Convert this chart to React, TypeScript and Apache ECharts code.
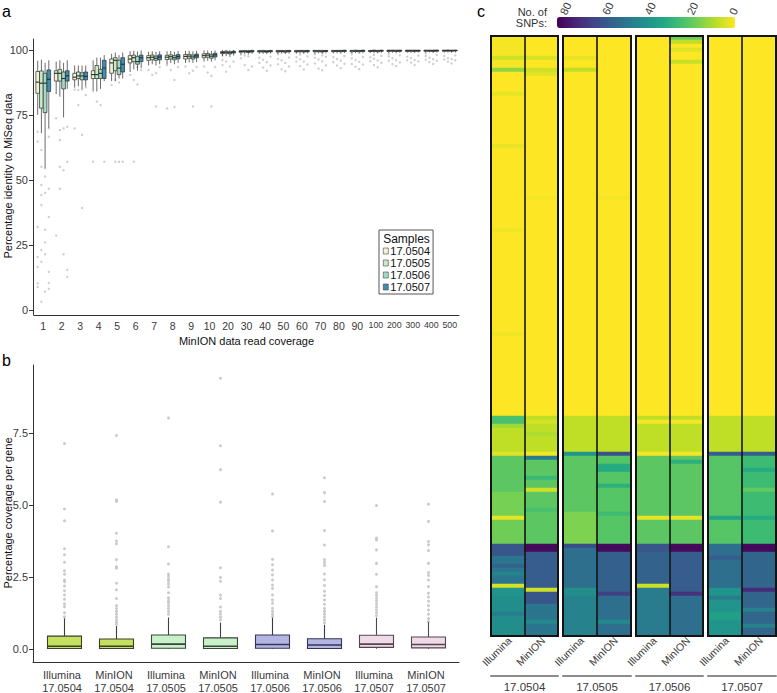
import React, { useEffect, useRef } from 'react';
import * as echarts from 'echarts';

const FONT = '"Liberation Sans", Arial, Helvetica, sans-serif';

// ---------- Panel a ----------
const coverageLevels = ['1','2','3','4','5','6','7','8','9','10','20','30','40','50','60','70','80','90','100','200','300','400','500'];
const sampleIds = ['17.0504', '17.0505', '17.0506', '17.0507'];
const sampleFillA = ['#f3f2d6', '#c9eac4', '#a2dac6', '#3d8fb2'];
const identityTicks = [0, 25, 50, 75, 100];

// [min, q1, median, q3, max] per coverage level
const boxA0504 = [
  [75, 83.3, 87.6, 91.7, 95.8], [83, 88, 91, 92, 95.5], [85.5, 88.5, 89.5, 91, 94], [84, 89, 90.5, 92, 96],
  [88, 91, 95, 96.5, 98.5], [91.5, 95, 96.5, 97.8, 99.5], [94, 96, 97, 97.8, 99.3], [94.5, 96.3, 97.2, 97.9, 99.5],
  [95, 96.5, 97.5, 98.2, 99.6], [95.5, 97, 97.8, 98.5, 99.8], [97.5, 98.6, 99, 99.4, 100], [98.3, 99.1, 99.4, 99.7, 100],
  [98.5, 99.2, 99.5, 99.7, 100], [98.5, 99.2, 99.5, 99.8, 100], [98.6, 99.2, 99.5, 99.8, 100], [98.6, 99.3, 99.6, 99.8, 100],
  [98.7, 99.3, 99.6, 99.8, 100], [98.7, 99.3, 99.6, 99.8, 100], [98.8, 99.4, 99.6, 99.8, 100], [98.8, 99.4, 99.7, 99.9, 100],
  [98.9, 99.4, 99.7, 99.9, 100], [98.9, 99.5, 99.7, 99.9, 100], [99, 99.5, 99.7, 99.9, 100],
];
const boxA0505 = [
  [68, 77.6, 87.2, 91.9, 96.2], [82, 88, 91, 92.5, 96], [86, 89, 90, 91.5, 94], [84, 89, 90.5, 94, 97],
  [88, 92, 96, 97, 99], [92.5, 95.5, 97, 98, 99.7], [94.5, 96.2, 97.2, 98, 99.5], [95, 96.5, 97.4, 98.1, 99.6],
  [95.2, 96.8, 97.6, 98.3, 99.7], [95.8, 97.2, 98, 98.6, 99.8], [97.6, 98.7, 99.1, 99.5, 100], [98.4, 99.2, 99.5, 99.7, 100],
  [98.5, 99.2, 99.5, 99.8, 100], [98.6, 99.3, 99.5, 99.8, 100], [98.6, 99.3, 99.6, 99.8, 100], [98.7, 99.3, 99.6, 99.8, 100],
  [98.7, 99.4, 99.6, 99.8, 100], [98.8, 99.4, 99.6, 99.9, 100], [98.8, 99.4, 99.7, 99.9, 100], [98.9, 99.5, 99.7, 99.9, 100],
  [98.9, 99.5, 99.7, 99.9, 100], [99, 99.5, 99.7, 99.9, 100], [99, 99.5, 99.8, 99.9, 100],
];
const boxA0506 = [
  [54.6, 75.9, 87.2, 91, 95], [74, 85, 89, 91.5, 95], [85, 88.5, 90, 91.2, 94], [85, 89, 91, 92.5, 97],
  [89, 90.5, 93, 96, 98], [92, 94.5, 95.5, 97.5, 99.4], [94, 96, 96.8, 97.6, 99.2], [94.5, 96.2, 97, 97.8, 99.3],
  [95, 96.5, 97.3, 98, 99.5], [95.5, 96.8, 97.6, 98.3, 99.6], [97.3, 98.5, 98.9, 99.3, 100], [98.2, 99, 99.4, 99.7, 100],
  [98.4, 99.1, 99.4, 99.7, 100], [98.4, 99.1, 99.5, 99.7, 100], [98.5, 99.2, 99.5, 99.8, 100], [98.5, 99.2, 99.5, 99.8, 100],
  [98.6, 99.3, 99.6, 99.8, 100], [98.6, 99.3, 99.6, 99.8, 100], [98.7, 99.3, 99.6, 99.8, 100], [98.7, 99.4, 99.6, 99.9, 100],
  [98.8, 99.4, 99.7, 99.9, 100], [98.8, 99.4, 99.7, 99.9, 100], [98.9, 99.5, 99.7, 99.9, 100],
];
const boxA0507 = [
  [70, 84, 88.7, 92.3, 96], [85, 88, 90, 92, 96], [86, 88.5, 89.8, 91.5, 94], [88, 89, 93, 96, 98],
  [89, 91.5, 94.5, 97, 99], [93, 95.5, 97, 98, 99.8], [94.5, 96.2, 97.3, 98.1, 99.5], [95, 96.6, 97.5, 98.2, 99.6],
  [95.3, 97, 97.7, 98.4, 99.7], [96, 97.3, 98.1, 98.7, 99.8], [97.8, 98.8, 99.2, 99.5, 100], [98.5, 99.2, 99.5, 99.8, 100],
  [98.6, 99.3, 99.5, 99.8, 100], [98.6, 99.3, 99.6, 99.8, 100], [98.7, 99.3, 99.6, 99.8, 100], [98.7, 99.4, 99.6, 99.8, 100],
  [98.8, 99.4, 99.6, 99.9, 100], [98.8, 99.4, 99.7, 99.9, 100], [98.9, 99.5, 99.7, 99.9, 100], [98.9, 99.5, 99.7, 99.9, 100],
  [99, 99.5, 99.7, 99.9, 100], [99, 99.5, 99.8, 99.9, 100], [99, 99.6, 99.8, 99.9, 100],
];

// outliers: [coverage level index, % identity]
const outA0504 = [
  [0, 68.5], [0, 64.7], [0, 31.9], [0, 20.3], [0, 16.5], [0, 10.1], [0, 8.8], [1, 73.7], [1, 28.6], [2, 84.8], [2, 69.8],
  [3, 57], [4, 86.5], [5, 90.4], [6, 92.3], [7, 94.2], [7, 77.5], [8, 93.6], [9, 93.6], [10, 96.1], [10, 94.2], [10, 98.1],
  [11, 96.8], [11, 98.2], [12, 97], [12, 95], [13, 96.5], [13, 94.5], [13, 98.3], [14, 97.2], [14, 95.5], [15, 97], [15, 94.8],
  [15, 98.4], [16, 97.3], [16, 95.3], [17, 96.8], [17, 94.6], [17, 98.3], [18, 97.2], [18, 95.6], [19, 97.5], [19, 95.8],
  [19, 98.5], [20, 97.4], [20, 96], [21, 97.6], [21, 96.2], [21, 98.6], [22, 97.7], [22, 96.3],
];
const outA0505 = [
  [0, 61.5], [0, 55], [0, 48], [0, 44.2], [0, 40.3], [0, 23], [0, 18.5], [0, 3.1], [1, 69.2], [1, 65.3], [1, 55], [1, 46.6],
  [2, 84.6], [2, 78.8], [3, 80.1], [4, 88.4], [4, 57], [5, 88.4], [5, 57], [6, 90.4], [7, 92.3], [8, 91], [9, 91.3],
  [10, 95.5], [10, 91.6], [11, 94.2], [11, 97.8], [12, 96.2], [12, 93.2], [13, 96], [13, 92.5], [14, 96.4], [14, 93.8],
  [14, 98.2], [15, 96.3], [15, 92.8], [16, 96.5], [16, 94], [17, 96.1], [17, 93.5], [18, 96.6], [18, 94.2], [18, 98.1],
  [19, 96.8], [19, 94.5], [20, 96.9], [20, 95.1], [21, 97], [21, 95.3], [22, 96.8], [22, 95.5],
];
const outA0506 = [
  [0, 54.4], [0, 51.3], [0, 45], [0, 30.8], [0, 25.9], [0, 21.4], [0, 7], [1, 69.8], [1, 53.7], [1, 21.4], [2, 84.8], [2, 67.3],
  [2, 39.2], [3, 78.8], [4, 87.5], [4, 57], [5, 86.7], [5, 93.4], [6, 78.2], [6, 91], [7, 88.4], [7, 78], [8, 92], [8, 78.2],
  [9, 90], [9, 78.2], [10, 93.6], [11, 92.3], [11, 97.5], [12, 95.3], [12, 92], [13, 95], [13, 91.8], [14, 95.5], [14, 92.5],
  [15, 95.6], [15, 92.2], [15, 97.9], [16, 95.8], [16, 93], [17, 95.4], [17, 92.6], [18, 95.9], [18, 93.3], [19, 96],
  [19, 93.8], [20, 96.1], [20, 94.2], [21, 96.4], [21, 94.6], [22, 96.5], [22, 94.8],
];
const outA0507 = [
  [0, 69.8], [0, 66.6], [0, 46.6], [0, 35.7], [0, 14.6], [0, 10.3], [0, 8.1], [1, 70.4], [1, 57], [1, 15.4], [1, 12.6],
  [2, 85.6], [2, 82.6], [3, 57], [4, 57], [5, 92.3], [6, 93.4], [7, 93.4], [8, 93.4], [9, 93.4], [10, 95.5], [11, 93.6],
  [12, 97.4], [12, 94], [13, 97.1], [13, 93.6], [14, 97.5], [14, 94.4], [15, 97.4], [15, 94.1], [16, 97.6], [16, 94.7],
  [17, 97.3], [17, 94.4], [18, 97.7], [18, 95], [19, 97.9], [19, 95.2], [20, 97.8], [20, 95.6], [21, 98], [21, 95.8],
  [22, 97.9], [22, 96],
];

// ---------- Panel b ----------
const geneCategories = [
  'Illumina\n17.0504', 'MinION\n17.0504', 'Illumina\n17.0505', 'MinION\n17.0505',
  'Illumina\n17.0506', 'MinION\n17.0506', 'Illumina\n17.0507', 'MinION\n17.0507',
];
const coverageTicks = [0, 2.5, 5, 7.5];
const fillB = ['#c4e05e', '#c4e05e', '#c9f1c9', '#c9f1c9', '#b5b5e2', '#b5b5e2', '#eedbe7', '#eedbe7'];
const strokeB = ['#3b3f2c', '#3b3f2c', '#3a463a', '#3a463a', '#35355a', '#35355a', '#55454f', '#55454f'];
const boxB = [
  [0, 0.01, 0.09, 0.44, 1.06], [0, 0.01, 0.09, 0.34, 0.79], [0, 0.02, 0.16, 0.48, 1.09], [0, 0.01, 0.09, 0.38, 0.91],
  [0, 0.02, 0.15, 0.48, 1.08], [0, 0.01, 0.13, 0.35, 0.83], [0, 0.05, 0.16, 0.47, 1.08], [0, 0.03, 0.15, 0.41, 0.93],
];
const outB = [
  [7.14, 4.86, 4.45, 3.48, 3.27, 3.01, 2.71, 2.59, 2.39, 2.33, 2.18, 2.02, 1.87, 1.72, 1.56, 1.46, 1.25, 1.11],
  [7.42, 5.18, 5.12, 4.02, 3.75, 3.65, 3.1, 2.85, 2.8, 2.28, 2.05, 1.75, 1.5, 1.4, 1.3, 1.2, 1.1, 1.0, 0.92, 0.85],
  [8.03, 3.55, 2.95, 2.6, 2.52, 2.42, 2.35, 2.25, 2.15, 1.95, 1.77, 1.68, 1.6, 1.5, 1.4, 1.3, 1.2],
  [9.41, 7.06, 6.23, 5.1, 2.82, 2.48, 2.35, 1.87, 1.75, 1.45, 1.3, 1.2, 1.1, 1.0],
  [5.38, 4.1, 3.11, 2.92, 2.74, 2.57, 2.39, 2.22, 2.1, 1.87, 1.7, 1.58, 1.41, 1.3, 1.2, 1.12],
  [5.95, 5.43, 5.12, 4.11, 3.61, 3.1, 3.0, 2.9, 2.6, 2.4, 2.2, 2.0, 1.85, 1.7, 1.55, 1.4, 1.3, 1.2, 1.1, 1.0, 0.9],
  [4.98, 3.85, 3.78, 3.44, 2.97, 2.59, 2.16, 1.95, 1.85, 1.75, 1.65, 1.55, 1.45, 1.35, 1.25, 1.15],
  [5.03, 4.43, 3.73, 3.62, 3.42, 2.97, 2.65, 2.55, 2.39, 2.16, 1.93, 1.8, 1.65, 1.5, 1.35, 1.2, 1.05, 0.95],
];

// ---------- Panel c ----------
const platforms = ['Illumina', 'MinION'];
const snpTicks = [0, 20, 40, 60, 80];
const viridisReversed = ['#fde725', '#bddf26', '#7ad151', '#44bf70', '#22a884', '#21918c', '#2a788e', '#355f8d', '#414487', '#482475', '#440154'];
// SNP counts per gene row, run-length: [SNPs, number of consecutive genes]
const snp0504Illumina = [[1,5],[6,1],[1,2],[14,1],[0,5],[3,1],[0,12],[3,1],[0,20],[2,1],[0,25],[2,1],[0,20],[24,2],[12,1],[8,6],[4,1],[21,9],[17,6],[3,1],[18,6],[60,3],[50,2],[56,1],[50,1],[46,1],[50,2],[5,1],[40,2],[42,4],[48,1],[42,5]];
const snp0504MinION = [[0,5],[5,1],[0,2],[6,1],[4,1],[0,30],[1,1],[0,54],[8,1],[5,1],[8,2],[10,1],[8,4],[1,1],[48,1],[21,4],[27,1],[21,2],[6,1],[21,4],[24,1],[21,8],[80,2],[58,9],[6,1],[60,3],[50,4],[44,1],[50,3]];
const snp0505Illumina = [[0,5],[3,1],[0,2],[8,1],[0,86],[8,9],[40,1],[21,14],[16,8],[63,1],[52,10],[42,2],[46,10]];
const snp0505MinION = [[0,40],[1,1],[0,54],[8,9],[62,1],[22,2],[32,2],[22,3],[30,1],[22,6],[26,1],[22,7],[80,2],[57,10],[66,1],[52,6],[44,1],[52,3]];
const snp0506Illumina = [[0,95],[8,1],[1,1],[8,7],[1,1],[21,15],[3,1],[21,6],[60,2],[56,8],[6,1],[48,12]];
const snp0506MinION = [[18,1],[8,1],[0,1],[4,1],[0,2],[7,1],[0,88],[8,1],[1,1],[8,7],[1,1],[21,1],[30,1],[21,13],[3,1],[21,6],[80,2],[58,10],[70,1],[52,10]];
const snp0507Illumina = [[0,95],[8,9],[58,1],[22,15],[35,1],[22,6],[52,3],[58,1],[52,7],[40,2],[48,1],[40,3],[36,2],[40,4]];
const snp0507MinION = [[0,95],[8,9],[58,1],[26,3],[32,1],[26,4],[20,1],[26,6],[32,1],[26,6],[80,2],[55,9],[72,1],[55,4],[46,1],[55,3],[46,1],[55,2]];

const snpColumns = [
  [snp0504Illumina, snp0504MinION],
  [snp0505Illumina, snp0505MinION],
  [snp0506Illumina, snp0506MinION],
  [snp0507Illumina, snp0507MinION],
];

// ---------- layout (px) ----------
const heatLeft = [491, 563, 636, 708];
const heatWidth = [67, 68, 67, 68];

function expandRuns(runs: number[][]): number[] {
  const out: number[] = [];
  runs.forEach(([v, n]) => { for (let i = 0; i < n; i++) out.push(v); });
  return out;
}

function makeBoxRenderer(offsetFrac: number, widthFrac: number, strokes: string[] | string, lw: number, medLw: number) {
  return (params: any, api: any) => {
    const x = api.value(0);
    const band = api.size([1, 0])[0];
    const pMed = api.coord([x, api.value(3)]);
    const cx = pMed[0] + offsetFrac * band;
    const hw = (widthFrac * band) / 2;
    const yMed = pMed[1];
    const yMin = api.coord([x, api.value(1)])[1];
    const yQ1 = api.coord([x, api.value(2)])[1];
    const yQ3 = api.coord([x, api.value(4)])[1];
    const yMax = api.coord([x, api.value(5)])[1];
    const stroke = Array.isArray(strokes) ? strokes[params.dataIndex] : strokes;
    const fill = api.visual('color');
    return {
      type: 'group',
      children: [
        { type: 'line', shape: { x1: cx, y1: yMax, x2: cx, y2: yQ3 }, style: { stroke, lineWidth: lw } },
        { type: 'line', shape: { x1: cx, y1: yQ1, x2: cx, y2: yMin }, style: { stroke, lineWidth: lw } },
        { type: 'rect', shape: { x: cx - hw, y: yQ3, width: 2 * hw, height: Math.max(yQ1 - yQ3, 0.6) }, style: { fill, stroke, lineWidth: lw } },
        { type: 'line', shape: { x1: cx - hw, y1: yMed, x2: cx + hw, y2: yMed }, style: { stroke, lineWidth: medLw } },
      ],
    };
  };
}

export default function App() {
  const ref = useRef<HTMLDivElement>(null);

  useEffect(() => {
    if (!ref.current) return;
    const chart = echarts.init(ref.current, null, { renderer: 'svg' });

    const boxesA = [boxA0504, boxA0505, boxA0506, boxA0507];
    const outsA = [outA0504, outA0505, outA0506, outA0507];
    const bandA = 425 / coverageLevels.length;

    const axisColor = '#333333';
    const labelColor = '#3a3a3a';

    const grids: any[] = [
      { left: 34, top: 39, width: 425, height: 276 },
      { left: 36, top: 365, width: 416, height: 297 },
      { left: 33, top: 365, width: 426, height: 297 },
      ...heatLeft.map((l, i) => ({
        left: l, top: 36, width: heatWidth[i], height: 600, show: true, z: 10,
        borderColor: '#141414', borderWidth: 2, backgroundColor: 'rgba(0,0,0,0)',
      })),
      { left: 557, top: 17, width: 178, height: 11 },
    ].map((g) => ({ outerBoundsMode: 'none', containLabel: false, ...g }));

    const rowCount = expandRuns(snp0504Illumina).length;
    const rowLabels = Array.from({ length: rowCount }, (_, i) => String(i));

    const xAxes: any[] = [
      {
        type: 'category', gridIndex: 0, data: coverageLevels,
        axisLine: { onZero: false, lineStyle: { color: axisColor, width: 1 } },
        axisTick: { alignWithLabel: true, length: 4, lineStyle: { color: axisColor } },
        axisLabel: {
          interval: 0, fontSize: 10.5, color: labelColor, margin: 5,
          formatter: (v: string) => (v.length >= 3 ? '{n|' + v + '}' : v),
          rich: { n: { fontSize: 8.8, color: labelColor, fontFamily: FONT } },
        },
        name: 'MinION data read coverage', nameLocation: 'middle', nameGap: 20,
        nameTextStyle: { fontSize: 11, color: '#111' },
      },
      {
        type: 'category', gridIndex: 1, data: geneCategories,
        axisLine: { show: false, onZero: false },
        axisTick: { alignWithLabel: true, length: 5, lineStyle: { color: axisColor } },
        axisLabel: { interval: 0, fontSize: 11, color: labelColor, margin: 7, lineHeight: 12.5 },
      },
      {
        type: 'value', gridIndex: 2, min: 0, max: 1,
        axisLine: { show: true, onZero: false, lineStyle: { color: axisColor, width: 1 } },
        axisTick: { show: false }, axisLabel: { show: false }, splitLine: { show: false },
      },
      ...heatLeft.map((_, i) => ({
        type: 'category', gridIndex: 3 + i, data: platforms, position: 'bottom', z: 10,
        axisLine: { show: false, onZero: false }, axisTick: { show: false },
        splitLine: { show: true, interval: 0, lineStyle: { color: '#141414', width: 1.6 } },
        axisLabel: { interval: 0, rotate: 45, fontSize: 10.5, color: labelColor, margin: 5, padding: [12, -3, 0, 0] },
      })),
      ...sampleIds.map((s, i) => ({
        type: 'category', gridIndex: 3 + i, data: [s], position: 'bottom', offset: 40,
        axisLine: { show: true, onZero: false, lineStyle: { color: '#8c8c8c', width: 2 } },
        axisTick: { show: false },
        axisLabel: { fontSize: 11.5, color: labelColor, margin: 5 },
      })),
      {
        type: 'value', gridIndex: 7, position: 'top', min: -1.4, max: 82.8, inverse: true,
        axisLine: { show: false, onZero: false }, axisTick: { show: false }, splitLine: { show: false },
        axisLabel: { customValues: snpTicks, rotate: -65, fontSize: 11, color: labelColor, margin: 3 },
      },
    ];

    const yAxes: any[] = [
      {
        type: 'value', gridIndex: 0, min: -2, max: 104.2, offset: 1,
        axisLine: { show: true, onZero: false, lineStyle: { color: axisColor, width: 1 } },
        axisTick: { show: true, length: 4, customValues: identityTicks, lineStyle: { color: axisColor } },
        axisLabel: { customValues: identityTicks, fontSize: 11, color: labelColor, margin: 5 },
        splitLine: { show: false },
      },
      {
        type: 'value', gridIndex: 1, min: -0.46, max: 9.87, offset: 3,
        axisLine: { show: true, onZero: false, lineStyle: { color: axisColor, width: 1 } },
        axisTick: { show: true, length: 4, customValues: coverageTicks, lineStyle: { color: axisColor } },
        axisLabel: { customValues: coverageTicks, fontSize: 11, color: labelColor, margin: 5, formatter: (v: number) => v.toFixed(1) },
        splitLine: { show: false },
      },
      { type: 'value', gridIndex: 2, show: false, min: 0, max: 1 },
      ...heatLeft.map((_, i) => ({ type: 'category', gridIndex: 3 + i, data: rowLabels, inverse: true, show: false })),
      { type: 'value', gridIndex: 7, show: false, min: 0, max: 1 },
    ];

    const series: any[] = [];
    // panel a boxes
    sampleIds.forEach((s, si) => {
      series.push({
        type: 'custom', name: s, xAxisIndex: 0, yAxisIndex: 0, z: 3,
        itemStyle: { color: sampleFillA[si] },
        encode: { x: 0, y: [1, 2, 3, 4, 5] },
        renderItem: makeBoxRenderer((si - 1.5) * 0.2, 0.2, '#2b2b2b', 0.7, 1.1),
        data: boxesA[si].map((b, ci) => [ci, ...b]),
      });
    });
    // panel a outliers
    sampleIds.forEach((s, si) => {
      series.push({
        type: 'scatter', name: 'outliers ' + s, xAxisIndex: 0, yAxisIndex: 0, z: 2,
        symbol: 'circle', symbolSize: 2.4, symbolOffset: [(si - 1.5) * 0.2 * bandA, 0],
        itemStyle: { color: '#c2c2c2' }, emphasis: { disabled: true },
        data: outsA[si],
      });
    });
    // panel b
    series.push({
      type: 'scatter', name: 'gene outliers', xAxisIndex: 1, yAxisIndex: 1, z: 2,
      symbol: 'circle', symbolSize: 3, symbolOffset: [2.5, 0],
      itemStyle: { color: '#bdbdbd' }, emphasis: { disabled: true },
      data: outB.flatMap((vals, ci) => vals.map((v) => [ci, v])),
    });
    series.push({
      type: 'custom', name: 'gene coverage', xAxisIndex: 1, yAxisIndex: 1, z: 3,
      encode: { x: 0, y: [1, 2, 3, 4, 5] },
      renderItem: makeBoxRenderer(0.048, 0.654, strokeB, 1.1, 1.6),
      data: boxB.map((b, ci) => ({ value: [ci, ...b], itemStyle: { color: fillB[ci] } })),
    });
    // panel c heatmaps
    const heatSeriesIdx: number[] = [];
    snpColumns.forEach((cols, gi) => {
      const data: number[][] = [];
      cols.forEach((runs, ci) => {
        expandRuns(runs).forEach((v, ri) => data.push([ci, ri, v]));
      });
      heatSeriesIdx.push(series.length);
      series.push({
        type: 'heatmap', name: 'SNPs ' + sampleIds[gi], xAxisIndex: 3 + gi, yAxisIndex: 3 + gi, z: 2,
        itemStyle: { borderWidth: 0 }, emphasis: { disabled: true },
        data,
      });
    });

    const option: any = {
      animation: false,
      backgroundColor: '#ffffff',
      textStyle: { fontFamily: FONT },
      grid: grids,
      xAxis: xAxes,
      yAxis: yAxes,
      legend: {
        data: sampleIds, orient: 'vertical', left: 379, top: 230,
        padding: [15, 3, 1, 4], itemGap: 0, itemWidth: 5, itemHeight: 6, icon: 'rect',
        borderColor: '#555', borderWidth: 1,
        itemStyle: { borderColor: '#444', borderWidth: 0.6 },
        textStyle: { fontSize: 11, color: '#111', lineHeight: 12, padding: [0, 0, 0, -3] },
        selectedMode: false,
      },
      visualMap: {
        type: 'continuous', min: 0, max: 82, seriesIndex: heatSeriesIdx,
        orient: 'horizontal', inverse: true, left: 552, top: 12, itemWidth: 11, itemHeight: 178,
        calculable: false, hoverLink: false, padding: 5,
        inRange: { color: viridisReversed },
        textStyle: { fontSize: 1, color: 'rgba(0,0,0,0)' },
      },
      graphic: [
        { type: 'text', left: 2, top: 3, style: { text: 'a', fontSize: 16, fill: '#000', fontFamily: FONT } },
        { type: 'text', left: 2, top: 352, style: { text: 'b', fontSize: 16, fill: '#000', fontFamily: FONT } },
        { type: 'text', left: 477, top: 3, style: { text: 'c', fontSize: 16, fill: '#000', fontFamily: FONT } },
        { type: 'text', x: 8, y: 176, rotation: Math.PI / 2, style: { text: 'Percentage identity to MiSeq data', align: 'center', verticalAlign: 'middle', fontSize: 11, fill: '#111', fontFamily: FONT } },
        { type: 'text', x: 8, y: 513, rotation: Math.PI / 2, style: { text: 'Percentage coverage per gene', align: 'center', verticalAlign: 'middle', fontSize: 11, fill: '#111', fontFamily: FONT } },
        { type: 'text', x: 547, y: 11.5, style: { text: 'No. of', align: 'right', verticalAlign: 'middle', fontSize: 11, fill: '#333', fontFamily: FONT } },
        { type: 'text', x: 547, y: 22.5, style: { text: 'SNPs:', align: 'right', verticalAlign: 'middle', fontSize: 11, fill: '#333', fontFamily: FONT } },
        { type: 'text', x: 406.5, y: 238.5, style: { text: 'Samples', align: 'center', verticalAlign: 'middle', fontSize: 12, fill: '#111', fontFamily: FONT } },
      ],
      series,
    };

    chart.setOption(option);
    return () => chart.dispose();
  }, []);

  return <div ref={ref} style={{ position: 'fixed', left: 0, top: 0, width: 777, height: 693, background: '#fff' }} />;
}
